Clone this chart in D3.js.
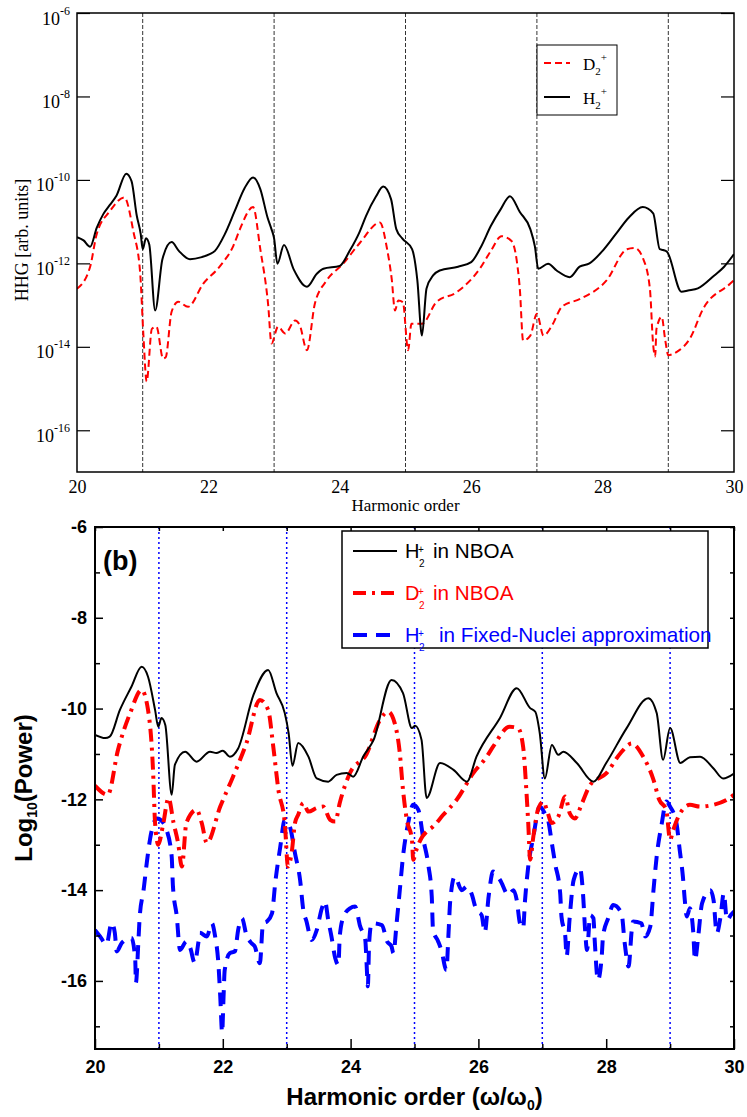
<!DOCTYPE html>
<html>
<head>
<meta charset="utf-8">
<style>
  body { margin: 0; background: #fff; }
  svg { display: block; }
</style>
</head>
<body>
<script src="https://d3js.org/d3.v7.min.js"></script>
<script>
// ---- data: [harmonic order, log10 value]
// panel (a): HHG [arb. units], stored as exponents of 10
const topH2 = [[20.0,-11.37],[20.1,-11.45],[20.2,-11.6],[20.3,-11.15],[20.4,-10.82],[20.5,-10.6],[20.6,-10.38],
  [20.75,-9.85],[20.83,-10.03],[20.91,-10.86],[20.97,-11.3],[21.0,-11.66],[21.05,-11.4],[21.1,-11.55],[21.19,-13.13],
  [21.3,-11.9],[21.44,-11.49],[21.55,-11.7],[21.72,-11.9],[21.9,-11.85],[22.02,-11.78],[22.1,-11.7],[22.25,-11.3],
  [22.4,-10.75],[22.55,-10.2],[22.68,-9.94],[22.79,-10.22],[22.9,-10.9],[22.96,-11.18],[23.0,-11.4],[23.05,-12.01],
  [23.15,-11.56],[23.3,-12.15],[23.5,-12.56],[23.65,-12.25],[23.75,-12.13],[24.0,-12.06],[24.15,-11.7],[24.3,-11.25],
  [24.4,-10.86],[24.55,-10.4],[24.66,-10.16],[24.78,-10.46],[24.86,-11.18],[24.95,-11.4],[25.1,-11.66],[25.18,-12.4],
  [25.25,-13.73],[25.32,-12.6],[25.42,-12.29],[25.52,-12.17],[25.8,-12.08],[26.0,-11.97],[26.15,-11.6],[26.3,-11.1],
  [26.45,-10.7],[26.59,-10.39],[26.74,-10.77],[26.9,-11.18],[26.97,-11.6],[27.02,-12.13],[27.17,-12.01],[27.3,-12.17],
  [27.5,-12.33],[27.65,-12.08],[27.8,-12.0],[28.0,-11.7],[28.2,-11.3],[28.4,-10.9],[28.61,-10.65],[28.77,-10.8],
  [28.87,-11.66],[28.92,-11.68],[28.98,-11.72],[29.2,-12.68],[29.3,-12.65],[29.45,-12.6],[29.7,-12.29],[29.85,-12.08],
  [30.0,-11.78]];
const topD2 = [[20.0,-12.61],[20.2,-12.08],[20.3,-11.3],[20.5,-10.75],[20.72,-10.42],[20.86,-11.25],[20.96,-12.2],
  [21.01,-13.7],[21.06,-14.83],[21.14,-13.57],[21.21,-13.52],[21.31,-14.28],[21.35,-14.25],[21.44,-13.16],[21.54,-12.92],
  [21.69,-13.04],[21.92,-12.49],[22.18,-12.06],[22.38,-11.58],[22.48,-11.18],[22.68,-10.65],[22.79,-11.66],[22.91,-13.0],
  [22.96,-13.92],[23.06,-13.52],[23.17,-13.68],[23.32,-13.37],[23.39,-13.48],[23.5,-14.08],[23.62,-12.97],[23.8,-12.41],
  [24.05,-12.01],[24.31,-11.5],[24.61,-11.02],[24.72,-11.66],[24.79,-12.37],[24.84,-13.13],[24.89,-12.89],[24.96,-12.93],
  [25.04,-14.08],[25.09,-13.45],[25.25,-13.45],[25.47,-12.93],[25.78,-12.69],[26.13,-12.13],[26.3,-11.7],[26.46,-11.35],
  [26.61,-11.46],[26.69,-11.9],[26.74,-12.61],[26.79,-13.85],[26.9,-13.73],[27.0,-13.21],[27.1,-13.73],[27.23,-13.49],
  [27.38,-13.04],[27.66,-12.85],[28.06,-12.41],[28.37,-11.66],[28.49,-11.63],[28.62,-11.9],[28.72,-12.61],[28.77,-13.96],
  [28.8,-14.23],[28.82,-13.57],[28.9,-13.28],[28.95,-13.8],[29.0,-14.2],[29.13,-14.12],[29.33,-13.8],[29.53,-13.09],
  [29.94,-12.49],[30.0,-12.4]];

// panel (b): Log10(Power)
const botH2 = [[20.0,-10.58],[20.16,-10.65],[20.23,-10.62],[20.39,-10.03],[20.57,-9.52],[20.73,-9.08],[20.83,-9.3],
  [20.94,-10.03],[20.99,-10.4],[21.04,-10.21],[21.1,-10.36],[21.2,-11.9],[21.25,-11.24],[21.41,-10.95],[21.59,-11.17],
  [21.8,-10.95],[21.9,-10.98],[22.0,-10.93],[22.11,-11.06],[22.24,-10.88],[22.48,-9.7],[22.71,-9.15],[22.84,-9.66],
  [22.97,-10.1],[23.03,-10.54],[23.09,-11.26],[23.18,-10.76],[23.34,-11.06],[23.47,-11.54],[23.65,-11.61],[23.78,-11.46],
  [23.94,-11.42],[24.04,-11.5],[24.2,-11.05],[24.36,-10.69],[24.64,-9.37],[24.82,-9.66],[24.96,-10.43],[25.01,-10.38],
  [25.11,-10.69],[25.19,-11.97],[25.4,-11.2],[25.61,-11.35],[25.82,-11.61],[25.97,-11.06],[26.34,-10.2],[26.6,-9.55],
  [26.81,-9.99],[26.89,-10.07],[26.96,-10.54],[27.04,-11.54],[27.15,-10.8],[27.25,-11.02],[27.33,-10.95],[27.54,-11.2],
  [27.8,-11.61],[28.0,-11.2],[28.32,-10.43],[28.66,-9.77],[28.79,-10.1],[28.89,-11.13],[29.0,-10.43],[29.16,-11.2],
  [29.31,-11.07],[29.47,-11.06],[29.68,-11.32],[29.83,-11.54],[30.0,-11.43]];
const botD2 = [[20.0,-11.7],[20.2,-11.9],[20.36,-10.91],[20.55,-10.1],[20.73,-9.59],[20.83,-10.03],[20.91,-11.42],
  [20.94,-12.52],[20.99,-13.0],[21.07,-12.52],[21.15,-11.97],[21.23,-12.52],[21.3,-12.96],[21.36,-13.48],[21.43,-12.52],
  [21.59,-12.23],[21.67,-12.52],[21.75,-12.96],[21.96,-12.16],[22.16,-11.5],[22.37,-10.76],[22.58,-9.81],[22.71,-10.03],
  [22.79,-10.84],[22.87,-11.79],[22.97,-12.52],[23.02,-13.48],[23.08,-13.15],[23.13,-12.52],[23.18,-12.34],[23.26,-12.08],
  [23.34,-12.27],[23.47,-12.19],[23.57,-12.16],[23.68,-12.45],[23.76,-12.49],[23.83,-12.08],[23.99,-11.42],[24.25,-11.0],
  [24.46,-10.25],[24.59,-10.07],[24.69,-10.32],[24.77,-10.98],[24.82,-11.79],[24.88,-12.45],[24.96,-12.89],[24.98,-13.33],
  [25.03,-13.11],[25.11,-12.85],[25.19,-12.71],[25.29,-12.6],[25.45,-12.34],[25.66,-12.01],[25.92,-11.42],[26.13,-11.06],
  [26.23,-10.84],[26.49,-10.4],[26.62,-10.43],[26.7,-10.84],[26.75,-11.79],[26.78,-12.52],[26.81,-13.33],[26.86,-12.82],
  [26.94,-12.19],[27.02,-12.05],[27.07,-12.23],[27.15,-12.52],[27.25,-12.38],[27.36,-11.94],[27.43,-12.31],[27.51,-12.42],
  [27.62,-12.09],[27.75,-11.68],[28.0,-11.43],[28.22,-10.99],[28.4,-10.77],[28.58,-11.06],[28.74,-11.57],[28.83,-12.01],
  [28.94,-12.23],[29.0,-12.89],[29.05,-12.67],[29.13,-12.38],[29.31,-12.12],[29.47,-12.16],[29.68,-12.12],[29.89,-12.01],
  [30.0,-11.9]];
const botFixed = [[20.0,-14.88],[20.08,-15.02],[20.18,-15.2],[20.26,-14.72],[20.31,-14.94],[20.34,-15.35],[20.42,-15.16],
  [20.57,-15.05],[20.63,-15.54],[20.64,-16.04],[20.68,-15.1],[20.7,-14.58],[20.76,-14.0],[20.81,-13.4],[20.86,-12.89],
  [20.97,-12.42],[21.07,-12.52],[21.12,-12.67],[21.2,-13.26],[21.22,-13.92],[21.28,-14.58],[21.33,-15.32],[21.43,-15.13],
  [21.49,-15.27],[21.56,-15.6],[21.62,-15.13],[21.64,-14.94],[21.75,-15.02],[21.83,-14.73],[21.88,-15.02],[21.93,-15.6],
  [21.96,-16.34],[21.99,-17.14],[22.01,-16.42],[22.03,-15.76],[22.11,-15.39],[22.19,-15.35],[22.24,-14.88],[22.3,-14.62],
  [22.37,-14.99],[22.45,-15.17],[22.5,-15.24],[22.58,-15.61],[22.63,-14.73],[22.69,-14.69],[22.77,-14.51],[22.82,-13.85],
  [22.9,-13.04],[22.97,-12.45],[23.05,-12.6],[23.13,-13.19],[23.21,-13.78],[23.26,-14.44],[23.31,-14.69],[23.39,-15.1],
  [23.47,-14.88],[23.55,-14.4],[23.6,-14.25],[23.65,-14.66],[23.7,-15.02],[23.76,-15.5],[23.81,-15.65],[23.83,-15.02],
  [23.89,-14.58],[23.99,-14.4],[24.07,-14.36],[24.15,-14.8],[24.23,-15.1],[24.25,-15.61],[24.27,-16.12],[24.29,-15.17],
  [24.33,-14.73],[24.49,-14.77],[24.57,-15.13],[24.64,-15.24],[24.67,-15.39],[24.72,-14.73],[24.77,-14.0],[24.82,-13.26],
  [24.9,-12.53],[24.98,-12.12],[25.06,-12.23],[25.14,-12.89],[25.22,-13.48],[25.27,-14.14],[25.29,-14.88],[25.37,-15.13],
  [25.42,-15.32],[25.5,-15.76],[25.53,-15.02],[25.56,-14.22],[25.63,-13.7],[25.74,-14.0],[25.82,-13.92],[25.89,-14.07],
  [25.97,-14.44],[26.05,-14.55],[26.1,-14.93],[26.16,-14.14],[26.23,-13.59],[26.34,-13.78],[26.47,-14.11],[26.55,-14.0],
  [26.6,-14.22],[26.65,-14.73],[26.7,-14.84],[26.73,-14.22],[26.78,-13.48],[26.86,-12.82],[26.96,-12.16],[27.04,-12.31],
  [27.09,-12.45],[27.15,-12.97],[27.2,-13.41],[27.28,-14.07],[27.3,-14.58],[27.36,-15.02],[27.38,-15.46],[27.43,-14.58],
  [27.49,-13.78],[27.59,-13.52],[27.64,-14.14],[27.67,-14.88],[27.7,-15.32],[27.75,-14.55],[27.8,-14.62],[27.82,-15.1],
  [27.87,-15.98],[27.93,-15.46],[27.95,-15.02],[28.03,-14.62],[28.11,-14.33],[28.24,-14.51],[28.29,-15.17],[28.35,-15.68],
  [28.4,-14.88],[28.42,-14.69],[28.55,-14.73],[28.61,-15.02],[28.69,-14.8],[28.74,-14.0],[28.79,-13.26],[28.87,-12.53],
  [28.94,-12.05],[29.0,-12.16],[29.1,-12.53],[29.15,-13.11],[29.2,-13.7],[29.23,-14.22],[29.26,-14.58],[29.31,-14.4],
  [29.36,-14.88],[29.39,-15.54],[29.44,-15.02],[29.5,-14.29],[29.63,-14.0],[29.68,-14.22],[29.73,-14.95],[29.79,-14.58],
  [29.84,-14.07],[29.89,-14.66],[29.95,-14.55],[30.0,-14.47]];

const xTicks = [20, 22, 24, 26, 28, 30];
const topExpTicks = [-16, -14, -12, -10, -8, -6];
const botYTicks = [-16, -14, -12, -10, -8, -6];
const oddOrders = [21, 23, 25, 27, 29];

const svg = d3.select("body").append("svg").attr("width", 747).attr("height", 1117);

// ================= panel (a) =================
const A = { left: 77, right: 734, top: 13, bottom: 472 };
const xa = d3.scaleLinear().domain([20, 30]).range([A.left, A.right]);
const ya = d3.scaleLog().domain([1e-17, 1e-6]).range([A.bottom, A.top]);
const serif = "'Liberation Serif', 'DejaVu Serif', serif";

svg.append("clipPath").attr("id", "clipA").append("rect")
  .attr("x", A.left).attr("y", A.top).attr("width", A.right - A.left).attr("height", A.bottom - A.top);

// dashed markers at odd harmonics
svg.append("g").selectAll("line").data(oddOrders).enter().append("line")
  .attr("x1", d => xa(d)).attr("x2", d => xa(d))
  .attr("y1", A.top).attr("y2", A.bottom)
  .attr("stroke", "#333").attr("stroke-width", 1).attr("stroke-dasharray", "4,2");

const lineA = d3.line().x(d => xa(d[0])).y(d => ya(Math.pow(10, d[1]))).curve(d3.curveMonotoneX);
const gA = svg.append("g").attr("clip-path", "url(#clipA)");
gA.append("path").datum(topD2).attr("d", lineA).attr("fill", "none")
  .attr("stroke", "#ff0000").attr("stroke-width", 2).attr("stroke-dasharray", "7,4");
gA.append("path").datum(topH2).attr("d", lineA).attr("fill", "none")
  .attr("stroke", "#000").attr("stroke-width", 2);

// axes (a)
const tickValsA = topExpTicks.map(e => Math.pow(10, e));
const yAxisA = svg.append("g").attr("transform", `translate(${A.left},0)`)
  .call(d3.axisLeft(ya).tickValues(tickValsA).tickSize(-13).tickPadding(7).tickFormat(""));
yAxisA.select(".domain").remove();
yAxisA.selectAll(".tick line").attr("stroke-width", 1.2);
yAxisA.selectAll(".tick text").each(function (d) {
  const t = d3.select(this).attr("dy", null).attr("y", 11)
    .attr("font-family", serif).attr("font-size", 18).attr("fill", "#000");
  t.append("tspan").text("10");
  t.append("tspan").attr("dy", -10).attr("font-size", 12).text(Math.round(Math.log10(d)));
});
const yAxisA2 = svg.append("g").attr("transform", `translate(${A.right},0)`)
  .call(d3.axisRight(ya).tickValues(tickValsA).tickSize(-13).tickFormat(""));
yAxisA2.select(".domain").remove();
yAxisA2.selectAll(".tick line").attr("stroke-width", 1.2);

const xAxisA = svg.append("g").attr("transform", `translate(0,${A.bottom})`)
  .call(d3.axisBottom(xa).tickValues(xTicks).tickSize(0).tickPadding(8).tickFormat(d3.format("d")));
xAxisA.select(".domain").remove();
xAxisA.selectAll("text").attr("font-family", serif).attr("font-size", 18).attr("fill", "#000");

svg.append("rect").attr("x", A.left).attr("y", A.top)
  .attr("width", A.right - A.left).attr("height", A.bottom - A.top)
  .attr("fill", "none").attr("stroke", "#000").attr("stroke-width", 1.5);

svg.append("text").attr("x", (A.left + A.right) / 2).attr("y", 511)
  .attr("text-anchor", "middle").attr("font-family", serif).attr("font-size", 17)
  .text("Harmonic order");
svg.append("text").attr("transform", "translate(28,240) rotate(-90)")
  .attr("text-anchor", "middle").attr("font-family", serif).attr("font-size", 18)
  .text("HHG [arb. units]");

// legend (a)
const legA = svg.append("g");
legA.append("rect").attr("x", 537).attr("y", 45).attr("width", 80).attr("height", 70)
  .attr("fill", "#fff").attr("stroke", "#000").attr("stroke-width", 1);
const legAItems = [
  { name: "D", y: 63, color: "#ff0000", dash: "7,4" },
  { name: "H", y: 97, color: "#000", dash: null }
];
legAItems.forEach(it => {
  legA.append("line").attr("x1", 544).attr("x2", 570).attr("y1", it.y).attr("y2", it.y)
    .attr("stroke", it.color).attr("stroke-width", 2).attr("stroke-dasharray", it.dash);
  const t = legA.append("text").attr("x", 583).attr("y", it.y + 7)
    .attr("font-family", serif).attr("font-size", 17);
  t.append("tspan").text(it.name);
  t.append("tspan").attr("dy", 5).attr("font-size", 11).text("2");
  t.append("tspan").attr("dy", -14).attr("font-size", 11).text("+");
});

// ================= panel (b) =================
const B = { left: 95, right: 734, top: 527, bottom: 1049 };
const xb = d3.scaleLinear().domain([20, 30]).range([B.left, B.right]);
const yb = d3.scaleLinear().domain([-17.5, -6]).range([B.bottom, B.top]);
const sans = "'Liberation Sans', Arial, sans-serif";

svg.append("clipPath").attr("id", "clipB").append("rect")
  .attr("x", B.left).attr("y", B.top).attr("width", B.right - B.left).attr("height", B.bottom - B.top);

svg.append("g").selectAll("line").data(oddOrders).enter().append("line")
  .attr("x1", d => xb(d)).attr("x2", d => xb(d))
  .attr("y1", B.top).attr("y2", B.bottom)
  .attr("stroke", "#0000ff").attr("stroke-width", 1.5).attr("stroke-dasharray", "2,3");

const lineB = d3.line().x(d => xb(d[0])).y(d => yb(d[1])).curve(d3.curveMonotoneX);
const gB = svg.append("g").attr("clip-path", "url(#clipB)");
gB.append("path").datum(botFixed).attr("d", lineB).attr("fill", "none")
  .attr("stroke", "#0000ff").attr("stroke-width", 4).attr("stroke-dasharray", "14,9");
gB.append("path").datum(botD2).attr("d", lineB).attr("fill", "none")
  .attr("stroke", "#ff0000").attr("stroke-width", 4).attr("stroke-dasharray", "13,6,3,6");
gB.append("path").datum(botH2).attr("d", lineB).attr("fill", "none")
  .attr("stroke", "#000").attr("stroke-width", 2);

// axes (b)
const yAxisB = svg.append("g").attr("transform", `translate(${B.left},0)`)
  .call(d3.axisLeft(yb).tickValues(botYTicks).tickSize(-8).tickPadding(8).tickFormat(d3.format("d")));
yAxisB.selectAll("text").attr("font-family", sans).attr("font-weight", "bold")
  .attr("font-size", 18).attr("fill", "#000").text(d => String(d));
const yMinorB = svg.append("g").attr("transform", `translate(${B.left},0)`)
  .call(d3.axisLeft(yb).tickValues(d3.range(-17, -6, 2)).tickSize(-5).tickFormat(""));
const yAxisB2 = svg.append("g").attr("transform", `translate(${B.right},0)`)
  .call(d3.axisRight(yb).tickValues(d3.range(-17, -5)).tickSize(-4).tickFormat(""));

const xAxisB = svg.append("g").attr("transform", `translate(0,${B.bottom})`)
  .call(d3.axisBottom(xb).tickValues(xTicks).tickSize(-10).tickPadding(11).tickFormat(d3.format("d")));
xAxisB.selectAll("text").attr("font-family", sans).attr("font-weight", "bold")
  .attr("font-size", 18).attr("fill", "#000");
const xMinorB = svg.append("g").attr("transform", `translate(0,${B.bottom})`)
  .call(d3.axisBottom(xb).tickValues(oddOrders).tickSize(-5).tickFormat(""));
const xAxisB2 = svg.append("g").attr("transform", `translate(0,${B.top})`)
  .call(d3.axisTop(xb).tickValues(d3.range(20, 31)).tickSize(-4).tickFormat(""));

[yAxisB, yMinorB, yAxisB2, xAxisB, xMinorB, xAxisB2].forEach(g => {
  g.select(".domain").remove();
  g.selectAll(".tick line").attr("stroke", "#000").attr("stroke-width", 1.5);
});

svg.append("rect").attr("x", B.left).attr("y", B.top)
  .attr("width", B.right - B.left).attr("height", B.bottom - B.top)
  .attr("fill", "none").attr("stroke", "#000").attr("stroke-width", 2);

const xTitle = svg.append("text").attr("x", (B.left + B.right) / 2).attr("y", 1105)
  .attr("text-anchor", "middle").attr("font-family", sans).attr("font-weight", "bold").attr("font-size", 24);
xTitle.append("tspan").text("Harmonic order (ω/ω");
xTitle.append("tspan").attr("dy", 5).attr("font-size", 14).text("0");
xTitle.append("tspan").attr("dy", -5).text(")");

const yTitle = svg.append("text").attr("transform", "translate(32,788) rotate(-90)")
  .attr("text-anchor", "middle").attr("font-family", sans).attr("font-weight", "bold").attr("font-size", 24);
yTitle.append("tspan").text("Log");
yTitle.append("tspan").attr("dy", 5).attr("font-size", 14).text("10");
yTitle.append("tspan").attr("dy", -5).text("(Power)");

svg.append("text").attr("x", 103).attr("y", 570)
  .attr("font-family", sans).attr("font-weight", "bold").attr("font-size", 27).text("(b)");

// legend (b)
const legB = svg.append("g");
legB.append("rect").attr("x", 342).attr("y", 531).attr("width", 366).attr("height", 117)
  .attr("fill", "#fff").attr("stroke", "#000").attr("stroke-width", 1.5);
const legBItems = [
  { name: "H", rest: "in NBOA", restX: 433, y: 558, color: "#000", width: 2, dash: null },
  { name: "D", rest: "in NBOA", restX: 433, y: 600, color: "#ff0000", width: 4, dash: "13,6,3,6" },
  { name: "H", rest: "in Fixed-Nuclei approximation", restX: 439, y: 642, color: "#0000ff", width: 4, dash: "14,9" }
];
legBItems.forEach(it => {
  legB.append("line").attr("x1", 353).attr("x2", 397).attr("y1", it.y - 7).attr("y2", it.y - 7)
    .attr("stroke", it.color).attr("stroke-width", it.width).attr("stroke-dasharray", it.dash);
  const txt = s => legB.append("text").attr("font-family", sans).attr("fill", it.color).text(s);
  txt(it.name).attr("x", 405).attr("y", it.y).attr("font-size", 20);
  txt("+").attr("x", 418).attr("y", it.y - 5).attr("font-size", 10);
  txt("2").attr("x", 419).attr("y", it.y + 9).attr("font-size", 10);
  txt(it.rest).attr("x", it.restX).attr("y", it.y).attr("font-size", 20.7);
});
</script>
</body>
</html>
